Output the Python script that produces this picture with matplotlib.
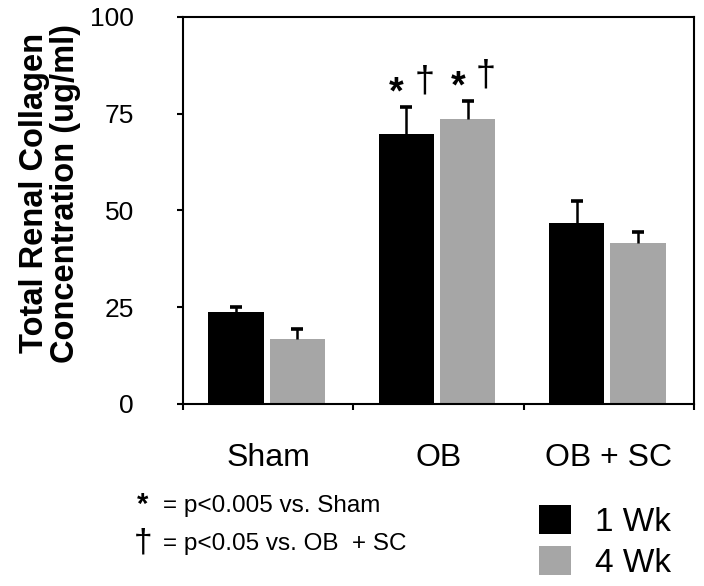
import numpy as np
import matplotlib
matplotlib.use('Agg')
import matplotlib.pyplot as plt

plt.rcParams['font.family'] = ['Liberation Sans', 'DejaVu Sans']

groups = ['Sham', 'OB', 'OB + SC']
series = ['1 Wk', '4 Wk']
wk1 = [23.7, 69.8, 46.8]
wk1_err = [1.4, 6.9, 5.6]
wk4 = [16.7, 73.6, 41.7]
wk4_err = [2.6, 4.7, 2.7]
star_wk1 = [False, True, False]
star_wk4 = [False, True, False]
dag_wk1 = [False, True, False]
dag_wk4 = [False, True, False]
yticks = [0, 25, 50, 75, 100]

fig = plt.figure(figsize=(7.04, 5.86), dpi=100)
ax = fig.add_axes([0.26, 0.3106, 0.726, 0.6604])

x = np.arange(len(groups))
off = [-0.19, 0.17]
w = 0.325
b1 = ax.bar(x + off[0], wk1, w, color='black', label=series[0], zorder=2)
b2 = ax.bar(x + off[1], wk4, w, color='#a6a6a6', label=series[1], zorder=2)

# upper-only error bars
for vals, errs, o in [(wk1, wk1_err, off[0]), (wk4, wk4_err, off[1])]:
    v = np.array(vals)
    e = np.array(errs)
    ax.vlines(x + o, v, v + e, color='black', lw=1.8, zorder=3)
    ax.plot(x + o, v + e, ls='none', marker='_', ms=8, mew=2.6, color='black', zorder=3)

# significance marks above the bars
for vals, errs, stars, dags, o in [(wk1, wk1_err, star_wk1, dag_wk1, off[0]),
                                     (wk4, wk4_err, star_wk4, dag_wk4, off[1])]:
    for i in range(len(groups)):
        top = vals[i] + errs[i]
        if stars[i]:
            ax.annotate('*', (x[i] + o, top), xytext=(-7, 10), textcoords='offset points',
                        ha='center', va='center', fontsize=27, fontweight='bold')
        if dags[i]:
            ax.annotate('\u2020', (x[i] + o, top), xytext=(13, 18), textcoords='offset points',
                        ha='center', va='center', fontsize=26)

ax.set_xlim(-0.5, 2.5)
ax.set_ylim(0, 100)
ax.set_yticks(yticks)
ax.set_xticks(np.arange(-0.5, 3, 1))
ax.set_xticklabels([])
ax.set_xticks(x, minor=True)
ax.set_xticklabels(groups, minor=True)
ax.tick_params(axis='y', direction='out', length=4.5, width=1.5, labelsize=19, pad=31)
ax.tick_params(axis='x', which='major', direction='out', length=4.5, width=1.5)
ax.tick_params(axis='x', which='minor', length=0, labelsize=23, pad=28)
for s in ax.spines.values():
    s.set_linewidth(1.5)

ax.set_ylabel('Total Renal Collagen\nConcentration (ug/ml)', fontsize=23.5,
              fontweight='bold', linespacing=1.0)
ax.yaxis.set_label_coords(-0.2, 0.545)

fig.text(143 / 704, 1 - 513 / 586, '*', fontsize=21, fontweight='bold', ha='center', va='baseline')
fig.text(163 / 704, 1 - 512 / 586, '= p<0.005 vs. Sham', fontsize=17.5, va='baseline')
fig.text(143 / 704, 1 - 551 / 586, '\u2020', fontsize=24, ha='center', va='baseline')
fig.text(163 / 704, 1 - 550 / 586, '= p<0.05 vs. OB  + SC', fontsize=17.5, va='baseline')

fig.legend(handles=[b1, b2], loc='upper left', bbox_to_anchor=(539 / 704, 1 - 505 / 586),
           frameon=False, fontsize=24, handlelength=0.95, handleheight=0.95,
           handletextpad=0.72, labelspacing=0.25, borderpad=0, borderaxespad=0)

fig.savefig('out.png', dpi=100)
